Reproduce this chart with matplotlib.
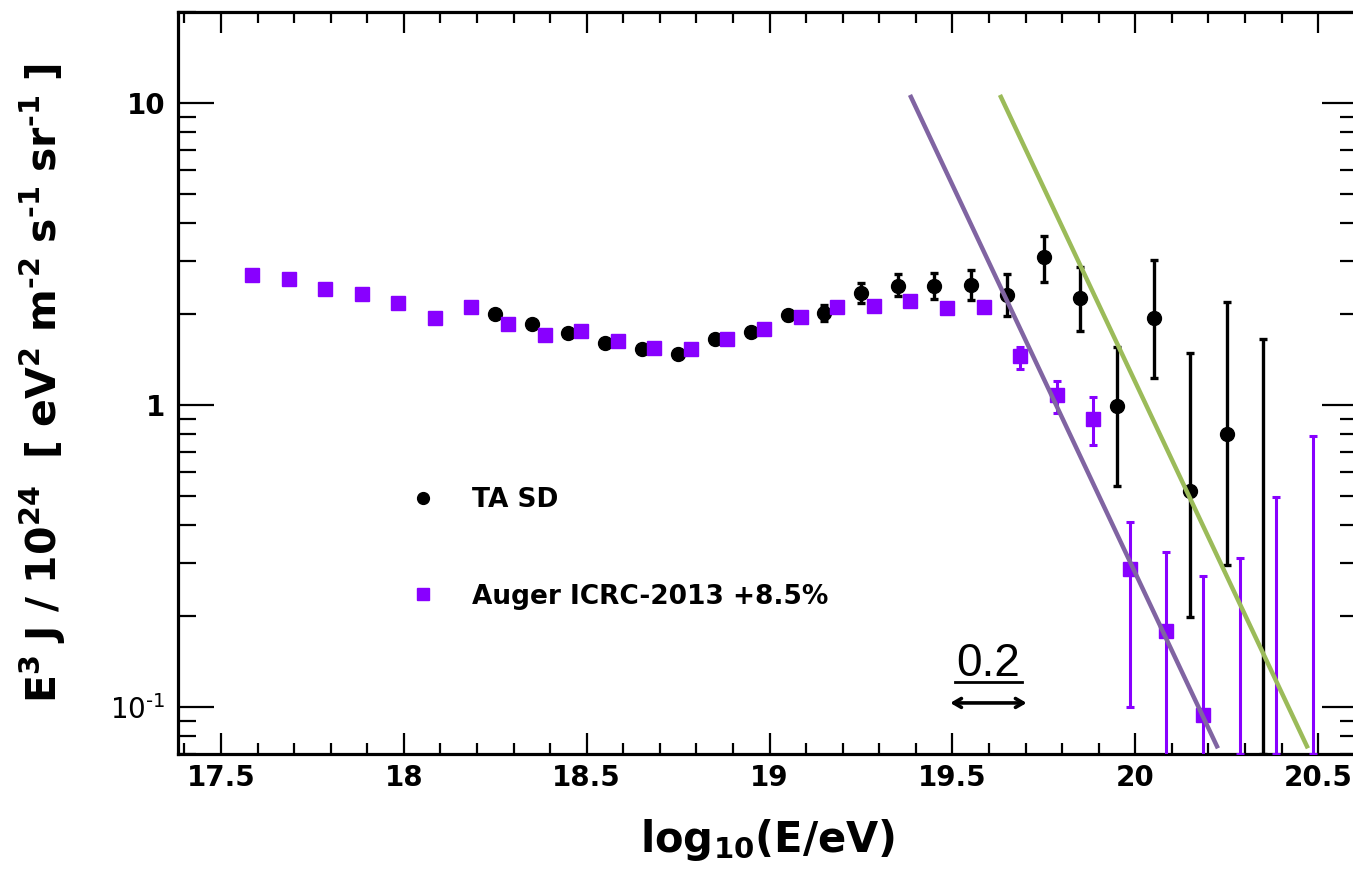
import numpy as np
import matplotlib
matplotlib.use("Agg")
import matplotlib.pyplot as plt
from matplotlib.lines import Line2D
from matplotlib.ticker import LogLocator, MultipleLocator, NullFormatter

plt.rcParams['font.family'] = ['DejaVu Sans']
plt.rcParams['mathtext.fontset'] = 'dejavusans'
plt.rcParams['mathtext.default'] = 'bf'

# ---------------- data ----------------
# TA SD (log10 E, E^3 J / 1e24, lower end, upper end)
ta_x = [18.25, 18.35, 18.45, 18.55, 18.65, 18.75, 18.85, 18.95, 19.05, 19.15,
        19.25, 19.35, 19.45, 19.55, 19.65, 19.75, 19.85, 19.95, 20.05, 20.15, 20.25]
ta_y = [2.00, 1.85, 1.73, 1.60, 1.53, 1.48, 1.66, 1.74, 1.98, 2.02,
        2.35, 2.48, 2.48, 2.50, 2.31, 3.10, 2.26, 0.99, 1.94, 0.52, 0.80]
ta_lo = [1.97, 1.82, 1.70, 1.57, 1.50, 1.45, 1.63, 1.70, 1.91, 1.90,
         2.18, 2.30, 2.24, 2.23, 1.97, 2.56, 1.76, 0.54, 1.23, 0.199, 0.295]
ta_hi = [2.03, 1.88, 1.76, 1.63, 1.56, 1.51, 1.69, 1.78, 2.05, 2.14,
         2.53, 2.72, 2.73, 2.80, 2.72, 3.64, 2.87, 1.56, 3.02, 1.49, 2.19]
# TA SD bin with no point shown (upper end only)
ta_ul_x = [20.35]
ta_ul_top = [1.65]

# Auger ICRC-2013 +8.5%
auger_x = [17.585, 17.685, 17.785, 17.885, 17.985, 18.085, 18.185, 18.285, 18.385,
           18.485, 18.585, 18.685, 18.785, 18.885, 18.985, 19.085, 19.185, 19.285,
           19.385, 19.485, 19.585, 19.685, 19.785, 19.885, 19.985, 20.085, 20.185]
auger_y = [2.70, 2.61, 2.42, 2.33, 2.17, 1.94, 2.11, 1.86, 1.71,
           1.76, 1.63, 1.54, 1.53, 1.66, 1.78, 1.95, 2.11, 2.12,
           2.21, 2.09, 2.11, 1.45, 1.08, 0.90, 0.286, 0.179, 0.094]
auger_lo = [2.68, 2.59, 2.40, 2.31, 2.15, 1.92, 2.09, 1.84, 1.69,
            1.74, 1.61, 1.52, 1.51, 1.64, 1.76, 1.93, 2.08, 2.09,
            2.17, 2.04, 2.04, 1.32, 0.94, 0.74, 0.100, 0.05, 0.05]
auger_hi = [2.72, 2.63, 2.44, 2.35, 2.19, 1.96, 2.13, 1.88, 1.73,
            1.78, 1.65, 1.56, 1.55, 1.68, 1.80, 1.97, 2.14, 2.15,
            2.25, 2.14, 2.18, 1.56, 1.20, 1.06, 0.411, 0.327, 0.272]
auger_ul_x = [20.285, 20.385, 20.485]
auger_ul_top = [0.312, 0.495, 0.79]

# Two power-law guide lines (endpoints)
purple_line_x = [19.384, 20.226]
purple_line_y = [10.63, 0.0731]
green_line_x = [19.630, 20.472]
green_line_y = [10.63, 0.0731]

x_ticks = [17.5, 18.0, 18.5, 19.0, 19.5, 20.0, 20.5]
x_ticklabels = ['17.5', '18', '18.5', '19', '19.5', '20', '20.5']
y_ticks = [0.1, 1, 10]
y_ticklabels = ['$\\mathregular{10^{\u20101}}$', '1', '10']

AUGER_C = '#8800ff'
PURPLE_LINE = '#8064a2'
GREEN_LINE = '#9bbb59'

# ---------------- figure ----------------
fig = plt.figure(figsize=(13.53, 8.85), dpi=100)
ax = fig.add_axes([178/1353, 131/885, 1180/1353, 742/885])
ax.set_yscale('log')
ax.set_xlim(17.3825, 20.609)
ax.set_ylim(0.07, 20)
ybot = ax.get_ylim()[0]

ta_x_a = np.array(ta_x); ta_y_a = np.array(ta_y)
ax.errorbar(ta_x_a, ta_y_a,
            yerr=[ta_y_a - np.array(ta_lo), np.array(ta_hi) - ta_y_a],
            fmt='o', color='black', ms=10, elinewidth=2.4, capsize=3,
            capthick=2.4, zorder=3)
ax.errorbar(ta_ul_x, ta_ul_top,
            yerr=[np.array(ta_ul_top) - ybot, np.zeros(len(ta_ul_top))],
            fmt='none', ecolor='black', elinewidth=2.4, capsize=3,
            capthick=2.4, zorder=3)

au_x_a = np.array(auger_x); au_y_a = np.array(auger_y)
ax.errorbar(au_x_a, au_y_a,
            yerr=[au_y_a - np.array(auger_lo), np.array(auger_hi) - au_y_a],
            fmt='s', color=AUGER_C, ms=9.5, elinewidth=2.2, capsize=3,
            capthick=2.2, zorder=4)
ax.errorbar(auger_ul_x, auger_ul_top,
            yerr=[np.array(auger_ul_top) - ybot, np.zeros(len(auger_ul_top))],
            fmt='none', ecolor=AUGER_C, elinewidth=2.2, capsize=3,
            capthick=2.2, zorder=4)

ax.plot(purple_line_x, purple_line_y, color=PURPLE_LINE, lw=3.2, zorder=5,
        solid_capstyle='butt')
ax.plot(green_line_x, green_line_y, color=GREEN_LINE, lw=3.2, zorder=5,
        solid_capstyle='butt')

# ticks
ax.set_xticks(x_ticks)
ax.set_xticklabels(x_ticklabels)
ax.xaxis.set_minor_locator(MultipleLocator(0.1))
ax.set_yticks(y_ticks)
ax.set_yticklabels(y_ticklabels)
ax.yaxis.set_minor_locator(LogLocator(base=10, subs=np.arange(2, 10)))
ax.yaxis.set_minor_formatter(NullFormatter())

ax.tick_params(axis='both', which='both', direction='in', top=True, right=True,
               width=1.6, colors='black')
ax.tick_params(axis='x', which='major', length=15, pad=7, labelsize=20)
ax.tick_params(axis='x', which='minor', length=8)
ax.tick_params(axis='y', which='major', length=26, pad=9, labelsize=20)
ax.tick_params(axis='y', which='minor', length=13)
for lab in ax.get_xticklabels() + ax.get_yticklabels():
    lab.set_fontweight('bold')
ax.get_yticklabels()[0].set_fontweight('normal')

for sp in ax.spines.values():
    sp.set_linewidth(2.3)

ax.set_xlabel(r'$log_{10}(E/eV)$', fontsize=30)
ax.xaxis.set_label_coords(0.5, -0.085)
ax.xaxis.label.set_va('top')
ax.set_ylabel('$E^{3}\\ J\\ /\\ 10^{24}\\ \\ [\\ eV^{2}\\ m^{\u20102}\\ s^{\u20101}\\ sr^{\u20101}\\ ]$',
              fontsize=29.5)
ax.yaxis.set_label_coords(-0.093, 0.5)

# legend
handles = [Line2D([], [], marker='o', color='black', ls='none', ms=8.5),
           Line2D([], [], marker='s', color=AUGER_C, ls='none', ms=8)]
ax.legend(handles, ['TA SD', 'Auger ICRC-2013 +8.5%'], loc='upper left',
          bbox_to_anchor=((409.5 - 178) / 1180, (754 - 487) / 742),
          frameon=False, prop={'family': 'DejaVu Sans', 'weight': 'bold', 'size': 19},
          handlelength=1.0, handletextpad=1.35, labelspacing=2.68,
          borderpad=0, borderaxespad=0)

# 0.2 shift annotation
ax.text(19.598, 0.1267, '0.2', family='Liberation Sans', fontsize=33,
        ha='center', va='baseline', zorder=6)
ax.plot([19.508, 19.690], [0.1213, 0.1213], color='black', lw=2.0, zorder=6)
ax.annotate('', xy=(19.494, 0.1033), xytext=(19.703, 0.1033),
            arrowprops=dict(arrowstyle='<->,head_length=0.55,head_width=0.32',
                            lw=2.6, color='black', shrinkA=0, shrinkB=0),
            zorder=6)

fig.savefig('out.png', dpi=100)
